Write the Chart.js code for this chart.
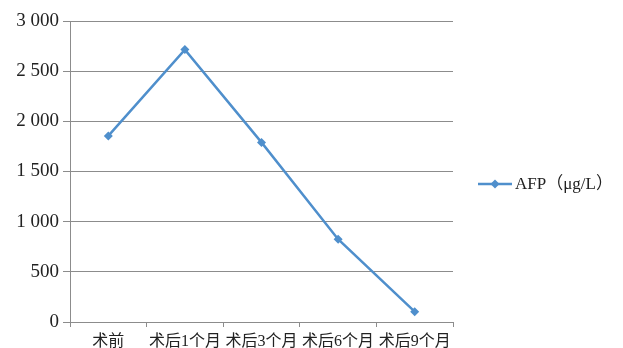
<!DOCTYPE html>
<html><head><meta charset="utf-8">
<script src="https://cdn.jsdelivr.net/npm/chart.js@4/dist/chart.umd.min.js"></script>
<style>html,body{margin:0;padding:0;background:#fff;}#wrap{width:623px;height:348px;position:relative;}</style>
</head><body><div id="wrap"><canvas id="c" width="623" height="348"></canvas></div>
<script>
const categories = ['术前', '术后1个月', '术后3个月', '术后6个月', '术后9个月'];
const afpValues = [1855, 2715, 1790, 825, 103];
const seriesLabel = 'AFP（μg/L）';
const yTicks = [0, 500, 1000, 1500, 2000, 2500, 3000];

const FONT = '"Liberation Serif", "Noto Sans CJK SC", serif';
const LINE = '#4f8fcc';
const GRID = '#8c8c8c';

function fmt(v){ return String(v).replace(/\B(?=(\d{3})+(?!\d))/g, ' '); }

const legendPlugin = {
  id: 'sideLegend',
  afterDraw(chart){
    const ctx = chart.ctx;
    const y = 184;
    ctx.save();
    ctx.strokeStyle = LINE; ctx.lineWidth = 2.5;
    ctx.beginPath(); ctx.moveTo(478, y); ctx.lineTo(512, y); ctx.stroke();
    ctx.fillStyle = LINE;
    ctx.beginPath(); ctx.moveTo(495, y-4.5); ctx.lineTo(499.5, y); ctx.lineTo(495, y+4.5); ctx.lineTo(490.5, y); ctx.closePath(); ctx.fill();
    ctx.fillStyle = '#222';
    ctx.font = '17px ' + FONT;
    ctx.textBaseline = 'middle';
    ctx.fillText(chart.data.datasets[0].label, 515, y+1);
    ctx.restore();
  }
};

new Chart(document.getElementById('c'), {
  type: 'line',
  data: {
    labels: categories,
    datasets: [{
      label: seriesLabel,
      data: afpValues,
      borderColor: LINE,
      backgroundColor: LINE,
      borderWidth: 2.5,
      pointStyle: 'rectRot',
      pointRadius: 4.5,
      pointBorderWidth: 0,
      tension: 0
    }]
  },
  options: {
    responsive: false,
    animation: false,
    devicePixelRatio: 1,
    layout: { padding: { left: 0, top: 21, right: 170, bottom: 0 } },
    plugins: { legend: { display: false }, tooltip: { enabled: false } },
    scales: {
      x: {
        offset: true,
        grid: { offset: true, drawOnChartArea: false, tickLength: 5, color: GRID, lineWidth: 1 },
        border: { color: GRID, width: 1 },
        ticks: { color: '#222', font: { family: FONT, size: 16 }, padding: 5, maxRotation: 0, autoSkip: false },
        afterFit(s){ s.height = 26; }
      },
      y: {
        min: 0, max: 3000,
        afterBuildTicks(s){ s.ticks = yTicks.map(v => ({ value: v })); },
        grid: { color: GRID, lineWidth: 1, tickLength: 7 },
        border: { color: GRID, width: 1 },
        ticks: { color: '#222', font: { family: FONT, size: 19 }, padding: 4, callback: v => fmt(v) },
        afterFit(s){ s.width = 70; }
      }
    }
  },
  plugins: [legendPlugin]
});
</script></body></html>
